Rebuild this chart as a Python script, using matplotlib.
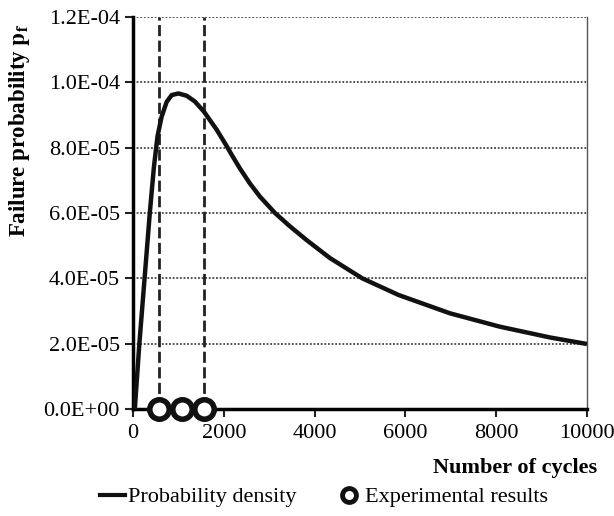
import numpy as np
import matplotlib
matplotlib.use('Agg')
import matplotlib.pyplot as plt
from matplotlib.lines import Line2D
from matplotlib.ticker import FuncFormatter

plt.rcParams['font.family'] = ['Liberation Serif', 'DejaVu Serif']
plt.rcParams['mathtext.fontset'] = 'stix'

# curve (cycles, pf in 1e-5)
cycles = [40, 140, 255, 370, 460, 540, 631, 741, 852, 1000, 1181, 1366, 1564,
          1843, 2050, 2200, 2357, 2577, 2797, 3128, 3450, 3825, 4339, 5050,
          5850, 6980, 8080, 9185, 10000]
pf = [0.0, 2.0, 4.0, 6.0, 7.4, 8.35, 8.95, 9.4, 9.61, 9.66, 9.59, 9.41, 9.1,
      8.55, 8.08, 7.72, 7.36, 6.9, 6.5, 6.0, 5.6, 5.17, 4.62, 4.0, 3.49, 2.93,
      2.52, 2.19, 1.99]

# experimental failures and their bounds
exp_cycles = [565, 1075, 1555]
bound_cycles = [565, 1555]

yticks = [0, 2e-5, 4e-5, 6e-5, 8e-5, 1e-4, 1.2e-4]
xticks = [0, 2000, 4000, 6000, 8000, 10000]

fig = plt.figure(figsize=(6.14, 5.16), dpi=100)
ax = fig.add_axes([133 / 614, 1 - 409 / 516, 454 / 614, 392 / 516])

for y in yticks[1:]:
    ax.axhline(y, color='#444444', lw=1.3, ls=(0, (1, 1)), zorder=1)

for xb in bound_cycles:
    ax.plot([xb, xb], [0, 1.2e-4], color='#222222', lw=2.0, ls=(0, (4, 1.6)), zorder=2)

ax.plot(cycles, np.array(pf) * 1e-5, color='#111111', lw=3.2, zorder=3,
        solid_capstyle='butt', solid_joinstyle='round')
ax.plot(exp_cycles, [0] * len(exp_cycles), 'o', ms=14, mfc='white', mec='#111111',
        mew=4, clip_on=False, zorder=5)

ax.set_xlim(0, 10000)
ax.set_ylim(0, 1.2e-4)
ax.set_xticks(xticks)
ax.set_yticks(yticks)
ax.yaxis.set_major_formatter(FuncFormatter(lambda v, p: f'{v:.1E}'))
ax.tick_params(labelsize=16, length=6, width=1.5, direction='out', color='#222222')
ax.tick_params(axis='x', pad=5)

ax.spines['top'].set_visible(False)
ax.spines['left'].set_linewidth(2.5)
ax.spines['bottom'].set_linewidth(2.5)
ax.spines['right'].set_linewidth(1.0)
ax.spines['right'].set_color('#555555')

ax.set_ylabel(r'Failure probability $\mathbf{p_f}$', fontsize=16.5, fontweight='bold')
ax.yaxis.set_label_coords(-0.222, 0.71)
ax.set_xlabel('Number of cycles', fontsize=16, fontweight='bold')
ax.xaxis.set_label_coords(1.022, -0.15)
ax.xaxis.label.set_horizontalalignment('right')
ax.xaxis.label.set_verticalalignment('center')

handles = [Line2D([], [], color='#111111', lw=3),
           Line2D([], [], ls='none', marker='o', ms=10, mfc='white', mec='#111111', mew=3.5)]
fig.legend(handles, ['Probability density', 'Experimental results'], loc='center',
           bbox_to_anchor=(324 / 614, 1 - 497 / 516), ncol=2, frameon=False, fontsize=16,
           handlelength=1.1, handletextpad=0.15, columnspacing=1.8)

fig.savefig('out.png', dpi=100)
